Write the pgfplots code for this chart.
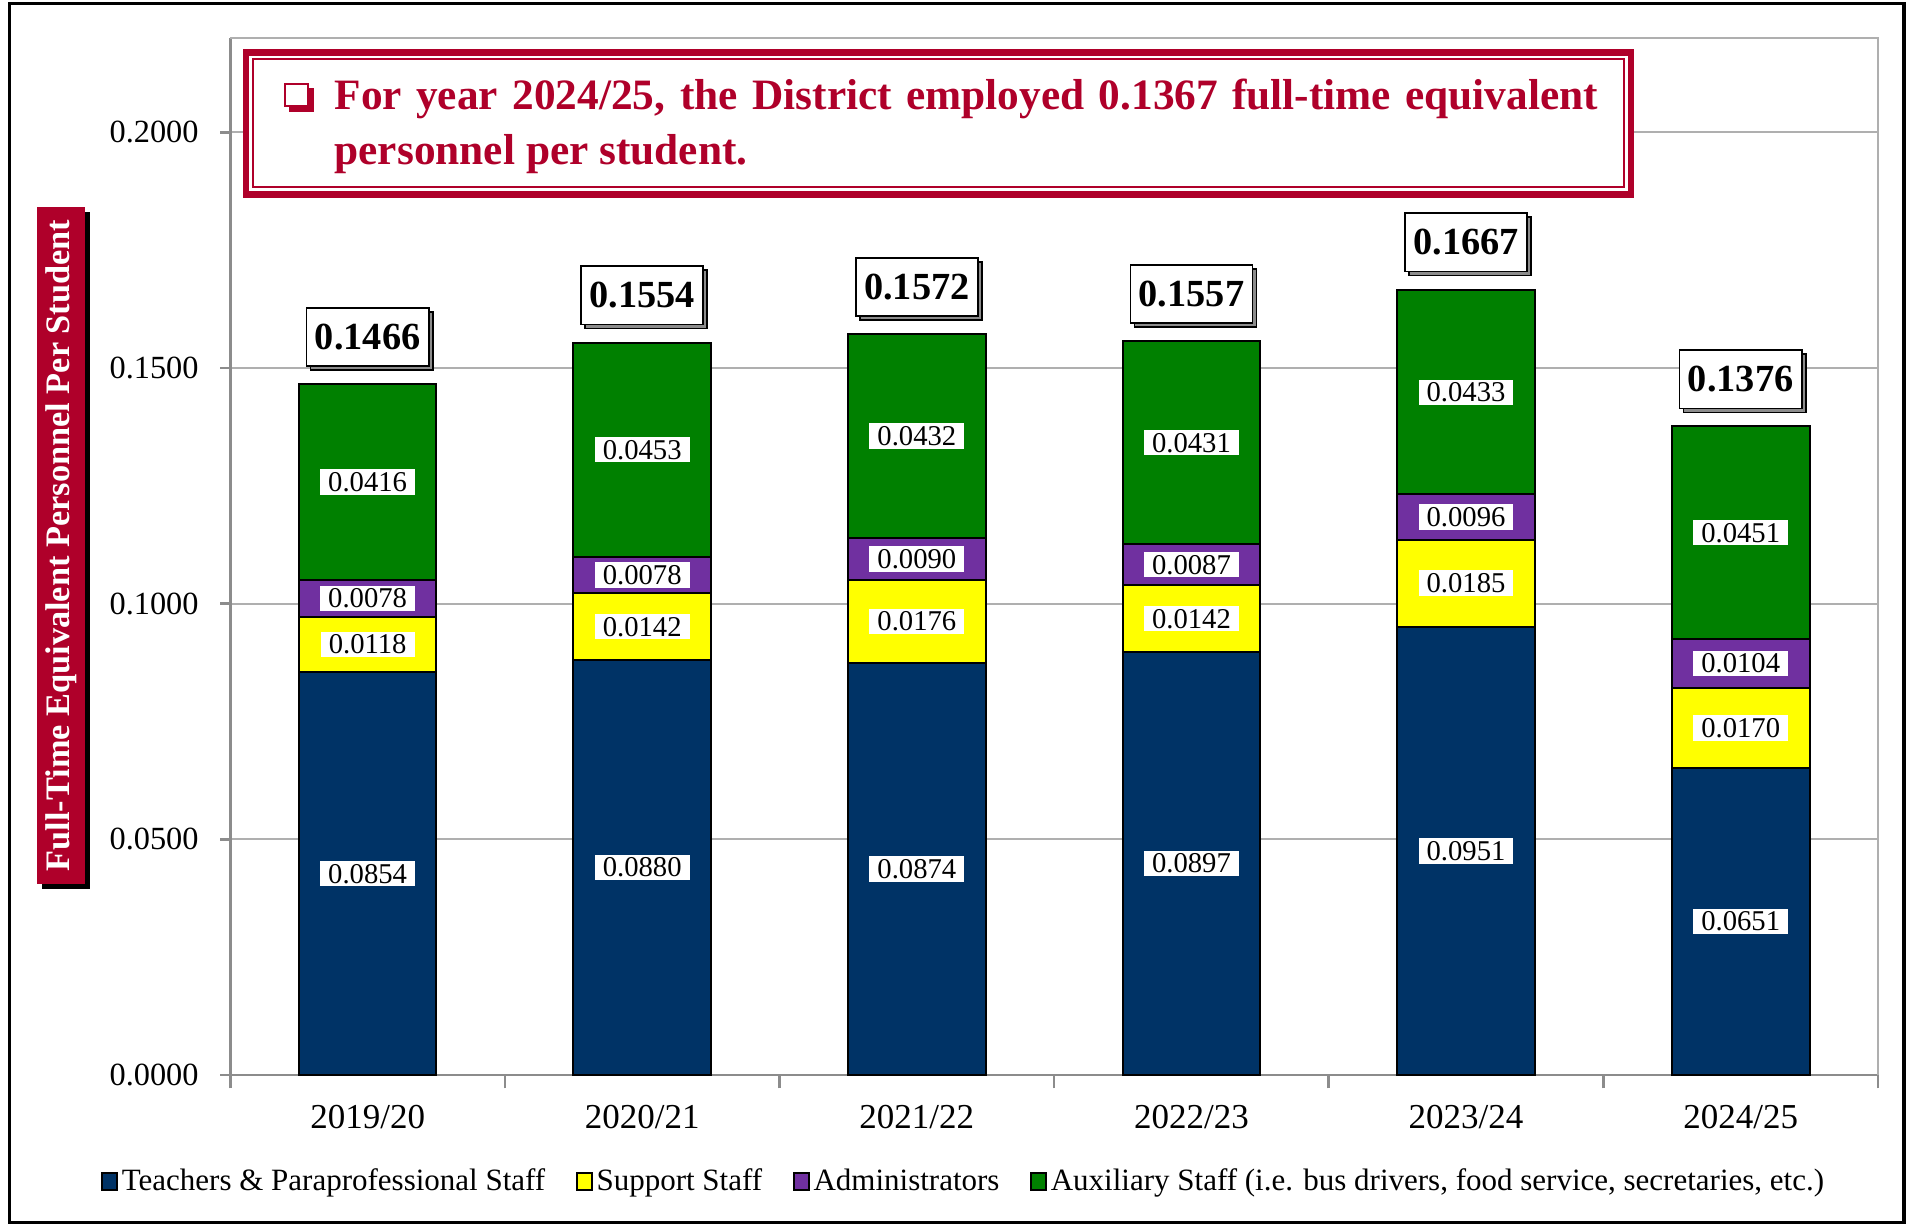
\documentclass[border=0pt]{standalone}
\usepackage{pgfplots}
\pgfplotsset{compat=1.18}
\usepackage{fontspec}
\setmainfont{Liberation Serif}
\usetikzlibrary{shadows}
\definecolor{navy}{RGB}{0,51,102}
\definecolor{ylw}{RGB}{255,255,0}
\definecolor{purp}{RGB}{112,48,160}
\definecolor{grn}{RGB}{0,128,0}
\definecolor{crim}{RGB}{175,0,42}
\definecolor{gridc}{RGB}{175,175,175}
\definecolor{axc}{RGB}{140,140,140}
\pgfplotsset{
  seg/.style={nodes near coords, point meta=explicit symbolic,
    every node near coord/.append style={fill=white, text=black, inner xsep=2.4pt, inner ysep=0.9pt,
      anchor=center, font=\fontsize{8.6}{9}\selectfont}},
}
\begin{document}
\begin{tikzpicture}
\begin{axis}[
  scale only axis, width=494.3pt, height=311.1pt,
  ybar stacked, bar width=41.3pt,
  xmin=-0.5, xmax=5.5, ymin=0, ymax=0.22,
  clip=false,
  axis x line*=bottom, axis y line*=left,
  axis line style={axc, line width=0.8pt},
  xtick={0,...,5},
  xticklabels={2019/20,2020/21,2021/22,2022/23,2023/24,2024/25},
  minor xtick={-0.5,0.5,1.5,2.5,3.5,4.5,5.5},
  major x tick style={draw=none},
  minor x tick style={draw=axc, line width=0.8pt},
  minor tick length=4pt,
  ytick={0,0.05,0.1,0.15,0.2},
  yticklabels={0.0000,0.0500,0.1000,0.1500,0.2000},
  y tick style={draw=axc, line width=0.8pt},
  major tick length=3pt,
  tick align=outside,
  ymajorgrids, major grid style={gridc, line width=0.6pt},
  /pgf/number format/assume math mode=true,
  xticklabel style={font=\fontsize{10.5}{12}\selectfont, yshift=-2.5pt},
  yticklabel style={font=\fontsize{9.7}{11}\selectfont, xshift=-3pt},
  legend style={at={(0.4457,-0.1035)}, anchor=center, draw=none, fill=none,
    legend columns=4, font=\fontsize{9.3}{11}\selectfont, inner sep=0pt,
    nodes={inner xsep=1.2pt},
    /tikz/every even column/.append style={column sep=8pt},
    /tikz/every odd column/.append style={column sep=0pt}},
  legend image code/.code={\draw[#1, draw=black, line width=0.6pt] (0pt,-2.3pt) rectangle (4.4pt,2.7pt);},
]
\addplot[fill=navy, draw=black, line width=0.6pt, seg] coordinates {
  (0,0.0854)[0.0854] (1,0.0880)[0.0880] (2,0.0874)[0.0874]
  (3,0.0897)[0.0897] (4,0.0951)[0.0951] (5,0.0651)[0.0651]};
\addplot[fill=ylw, draw=black, line width=0.6pt, seg] coordinates {
  (0,0.0118)[0.0118] (1,0.0142)[0.0142] (2,0.0176)[0.0176]
  (3,0.0142)[0.0142] (4,0.0185)[0.0185] (5,0.0170)[0.0170]};
\addplot[fill=purp, draw=black, line width=0.6pt, seg] coordinates {
  (0,0.0078)[0.0078] (1,0.0078)[0.0078] (2,0.0090)[0.0090]
  (3,0.0087)[0.0087] (4,0.0096)[0.0096] (5,0.0104)[0.0104]};
\addplot[fill=grn, draw=black, line width=0.6pt, seg] coordinates {
  (0,0.0416)[0.0416] (1,0.0453)[0.0453] (2,0.0432)[0.0432]
  (3,0.0431)[0.0431] (4,0.0433)[0.0433] (5,0.0451)[0.0451]};
\legend{Teachers \& Paraprofessional Staff, Support Staff, Administrators, {Auxiliary Staff (i.e. bus drivers, food service, secretaries, etc.)}}
\draw[gridc, line width=0.6pt] (axis cs:-0.5,0.22) -- (axis cs:5.5,0.22) -- (axis cs:5.5,0);
\end{axis}
\begin{axis}[
  scale only axis, width=494.3pt, height=311.1pt,
  xmin=-0.5, xmax=5.5, ymin=0, ymax=0.22,
  clip=false, hide axis]
\addplot[only marks, mark=none, nodes near coords, point meta=explicit symbolic,
  every node near coord/.append style={fill=white, draw=black, line width=0.5pt, text=black,
    font=\bfseries\fontsize{11.5}{13}\selectfont, inner xsep=2.5pt, minimum height=17.5pt,
    anchor=south, yshift=5.1pt,
    drop shadow={shadow xshift=1.2pt, shadow yshift=-1.2pt, fill=black!45, opacity=1}}]
  coordinates {(0,0.1466)[0.1466] (1,0.1554)[0.1554] (2,0.1572)[0.1572] (3,0.1557)[0.1557] (4,0.1667)[0.1667] (5,0.1376)[0.1376]};
\end{axis}
% outer border
\draw[black, line width=1.1pt] (-66.2pt,-44.2pt) rectangle (502.0pt,321.4pt);
% y label box
\fill[black] (-56.6pt,55.9pt) rectangle (-42.0pt,258.8pt);
\fill[crim] (-58.1pt,57.4pt) rectangle (-43.5pt,260.3pt);
\node[rotate=90, text=white, font=\bfseries\fontsize{10.3}{12}\selectfont] at (-50.8pt,158.85pt) {Full-Time Equivalent Personnel Per Student};
% annotation
\draw[crim, line width=2pt, fill=white] (4.7pt,264.2pt) rectangle (420.2pt,306.8pt);
\draw[crim, line width=0.6pt] (6.8pt,266.3pt) rectangle (418.1pt,304.7pt);
\fill[crim] (17.7pt,288.8pt) rectangle (25.2pt,296.1pt);
\draw[crim, line width=0.7pt, fill=white] (16.4pt,290.6pt) rectangle (23.3pt,297.3pt);
\node[anchor=base west, inner sep=0, text=crim] at (31.1pt,289.6pt) {\parbox[t]{379pt}{\fontsize{13}{16.5}\selectfont\bfseries For year 2024/25, the District employed 0.1367 full-time equivalent personnel per student.}};
\pgfresetboundingbox
\useasboundingbox (-69.1pt,-45.0pt) rectangle (504.2pt,322.5pt);
\end{tikzpicture}
\end{document}
